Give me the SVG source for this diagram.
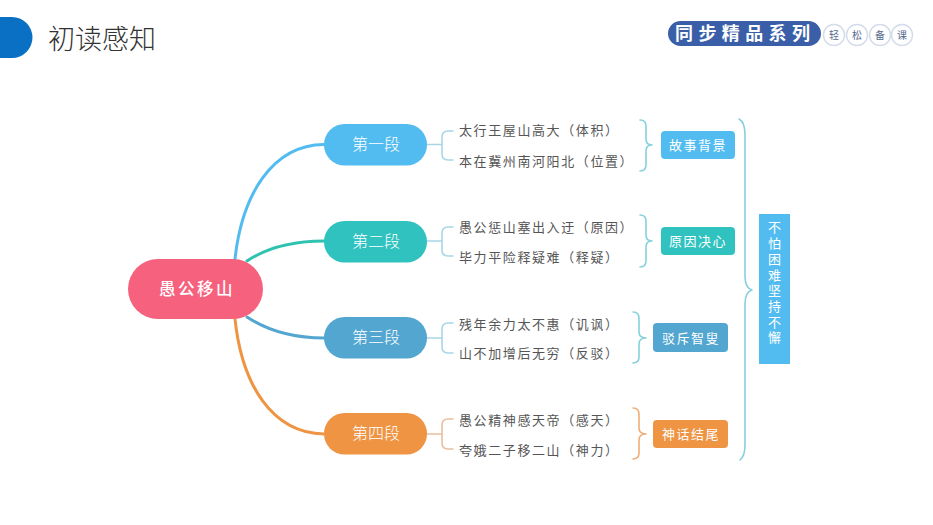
<svg xmlns="http://www.w3.org/2000/svg" width="933" height="525" viewBox="0 0 933 525">
<style>
text{font-family:"Noto Sans CJK SC","Noto Sans",sans-serif}
.conn{fill:none;stroke-linecap:round;stroke-linejoin:round}
.root{font-size:16.500px;font-weight:500;fill:#fff;text-anchor:middle;letter-spacing:2.500px}
.seg{font-size:16px;fill:#fff;text-anchor:middle;font-weight:300}
.line{font-size:13px;fill:#555;letter-spacing:1.600px}
.tag{font-size:13px;fill:#fff;text-anchor:middle;letter-spacing:1.500px}
.side{font-size:13px;fill:#fff;writing-mode:vertical-rl;letter-spacing:2.700px}
.coin{fill:#fff;stroke:#d5dcea;stroke-width:1.500}
.cointxt{font-size:10px;fill:#54698f;text-anchor:middle}
.lb{stroke:#a9d6e6;stroke-width:1.600}
.lo{stroke:#e8bf9f;stroke-width:1.600}
.rb{stroke:#86d0de;stroke-width:1.600}
.ro{stroke:#eeae7a;stroke-width:1.600}
</style>
<rect width="933" height="525" fill="#fff"/>
<g id="header">
<path d="M0 17H12A20.500 20.500 0 0 1 12 58H0Z" fill="#0a70c4"/>
<text x="48" y="49" font-size="27" fill="#333" font-weight="300">初读感知</text>
</g>
<g id="badge">
<rect x="668" y="21" width="153" height="25" rx="12.500" fill="#3a5fa8"/>
<text x="675" y="40" font-size="18" font-weight="700" fill="#fff" letter-spacing="5.400">同步精品系列</text>
<circle class="coin" cx="834" cy="35" r="10.500"/><circle class="coin" cx="857" cy="35" r="10.500"/><circle class="coin" cx="880" cy="35" r="10.500"/><circle class="coin" cx="902" cy="35" r="10.500"/>
<text class="cointxt" x="834" y="39">轻</text><text class="cointxt" x="857" y="39">松</text><text class="cointxt" x="880" y="39">备</text><text class="cointxt" x="902" y="39">课</text>
</g>
<g id="connectors" class="conn">
<path d="M235 259C242 195 272 145 324 144.500" stroke="#52bcf0" stroke-width="3"/>
<path d="M247 261C268 247 292 241 324 241" stroke="#30c2b0" stroke-width="3"/>
<path d="M247 317C268 331 292 338 324 338" stroke="#52a6d0" stroke-width="3"/>
<path d="M235 319C242 385 272 433 324 434" stroke="#ee9443" stroke-width="3"/>
<path class="lb" d="M427 144.500H442M453 131H448Q442 131 442 137V154Q442 160 448 160H453"/>
<path class="lb" d="M427 241H442M453 227H448Q442 227 442 233V250Q442 256 448 256H453"/>
<path class="lb" d="M427 338H442M453 323H448Q442 323 442 329V347Q442 353 448 353H453"/>
<path class="lo" d="M427 434H442M453 419H448Q442 419 442 425V443Q442 449 448 449H453"/>
<path class="rb" d="M640 120Q646 120 646 126V139Q646 145 652 145Q646 145 646 151V165Q646 171 640 171"/>
<path class="rb" d="M640 215Q646 215 646 221V235Q646 241 652 241Q646 241 646 247V261Q646 267 640 267"/>
<path class="rb" d="M633 312Q639 312 639 318V332Q639 338 646 338Q639 338 639 344V357Q639 363 633 363"/>
<path class="ro" d="M633 408Q639 408 639 414V428Q639 434 646 434Q639 434 639 440V453Q639 459 633 459"/>
<path class="rb" d="M739 119Q745 122 745 135V276Q745 288 752 290Q745 292 745 304V445Q745 456 740 460"/>
</g>
<g id="root"><rect x="128" y="259" width="135" height="60" rx="30" fill="#f6617e"/><text class="root" x="197" y="295">愚公移山</text></g>
<g id="seg1"><rect x="324" y="124" width="103" height="41.500" rx="20.500" fill="#52bcf0"/><text class="seg" x="376" y="150">第一段</text></g>
<g id="seg2"><rect x="324" y="221" width="103" height="41.500" rx="20.500" fill="#30c2bf"/><text class="seg" x="376" y="247">第二段</text></g>
<g id="seg3"><rect x="324" y="317" width="103" height="41.500" rx="20.500" fill="#52a6d0"/><text class="seg" x="376" y="343">第三段</text></g>
<g id="seg4"><rect x="324" y="413" width="103" height="41.500" rx="20.500" fill="#ee9443"/><text class="seg" x="376" y="439">第四段</text></g>
<g id="lines1"><text class="line" x="459" y="135">太行王屋山高大（体积）</text><text class="line" x="459" y="166">本在冀州南河阳北（位置）</text></g>
<g id="lines2"><text class="line" x="459" y="232">愚公惩山塞出入迂（原因）</text><text class="line" x="459" y="262">毕力平险释疑难（释疑）</text></g>
<g id="lines3"><text class="line" x="459" y="329">残年余力太不惠（讥讽）</text><text class="line" x="459" y="358">山不加增后无穷（反驳）</text></g>
<g id="lines4"><text class="line" x="459" y="425">愚公精神感天帝（感天）</text><text class="line" x="459" y="455">夸娥二子移二山（神力）</text></g>
<g id="tag1"><rect x="661" y="131" width="74" height="28" rx="4" fill="#52bcf0"/><text class="tag" x="698" y="150">故事背景</text></g>
<g id="tag2"><rect x="661" y="227" width="74" height="28" rx="4" fill="#30c2bf"/><text class="tag" x="698" y="246">原因决心</text></g>
<g id="tag3"><rect x="653" y="323" width="75" height="29" rx="4" fill="#52a6d0"/><text class="tag" x="691" y="343">驳斥智叟</text></g>
<g id="tag4"><rect x="653" y="420" width="75" height="28" rx="4" fill="#ee9443"/><text class="tag" x="691" y="439">神话结尾</text></g>
<g id="summary"><rect x="759" y="214" width="31" height="150" fill="#52bcf0"/>
<text class="side" x="774.500" y="221">不怕困难坚持不懈</text></g>
</svg>
